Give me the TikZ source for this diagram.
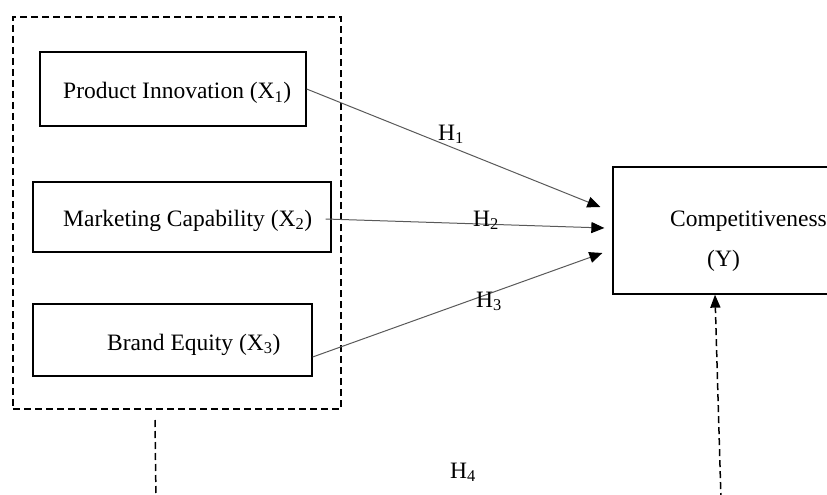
\documentclass[tikz,border=0pt]{standalone}
\usepackage{fontspec}
\setmainfont{Liberation Serif}
\usetikzlibrary{arrows.meta}
\begin{document}
\begin{tikzpicture}[x=1pt,y=-1pt,
  box/.style={draw=black, line width=1.3pt, rectangle, inner sep=0pt},
  txt/.style={inner sep=0pt, anchor=base west, font=\fontsize{23.5}{28}\selectfont},
  hyp/.style={draw=black!65, line width=1pt, -{Triangle[length=13pt,width=11pt,color=black]}},
  dashline/.style={draw=black, line width=1.5pt, dash pattern=on 7pt off 4pt},
]
\useasboundingbox (0,0) rectangle (827,495);
\clip (0,0) rectangle (827,495);
% outer dashed group
\node[box, dashline, minimum width=328pt, minimum height=392pt] (grp) at (177,213) {};
% variable boxes
\node[box, minimum width=266pt, minimum height=74pt] (x1) at (173,89) {};
\node[box, minimum width=298pt, minimum height=70pt] (x2) at (182,217) {};
\node[box, minimum width=279pt, minimum height=72pt] (x3) at (172.5,340) {};
\node[box, minimum width=287pt, minimum height=127pt] (Y) at (756.5,230.5) {};
% texts
\node[txt] (t1) at (63,99) {Product Innovation (X\textsubscript{1})};
\node[txt] (t2) at (63,226) {Marketing Capability (X\textsubscript{2})};
\node[txt] (t3) at (107,350) {Brand Equity (X\textsubscript{3})};
\node[txt] (ty1) at (670,226) {Competitiveness};
\node[txt] (ty2) at (707,266) {(Y)};
% hypothesis arrows
\draw[hyp] (x1.east) -- ([shift={(-12,-23.5)}]Y.west);
\draw[hyp] ([shift={(-6,2)}]x2.east) -- ([shift={(-8,-2.5)}]Y.west);
\draw[hyp] ([shift={(0,17)}]x3.east) -- ([shift={(-10,22.5)}]Y.west);
% labels
\node[txt] (h1) at (438,140) {H\textsubscript{1}};
\node[txt] (h2) at (473,226) {H\textsubscript{2}};
\node[txt] (h3) at (476,307) {H\textsubscript{3}};
\node[txt] (h4) at (450,478) {H\textsubscript{4}};
% H4 dashed connectors
\coordinate (d1) at (155,420);
\coordinate (d2) at (156,500);
\draw[dashline] (d1) -- (d2);
\coordinate (d3) at (721,500);
\draw[dashline, -{Triangle[length=13pt,width=10pt]}] (d3) -- ([shift={(-41.5,0)}]Y.south);
\end{tikzpicture}
\end{document}
